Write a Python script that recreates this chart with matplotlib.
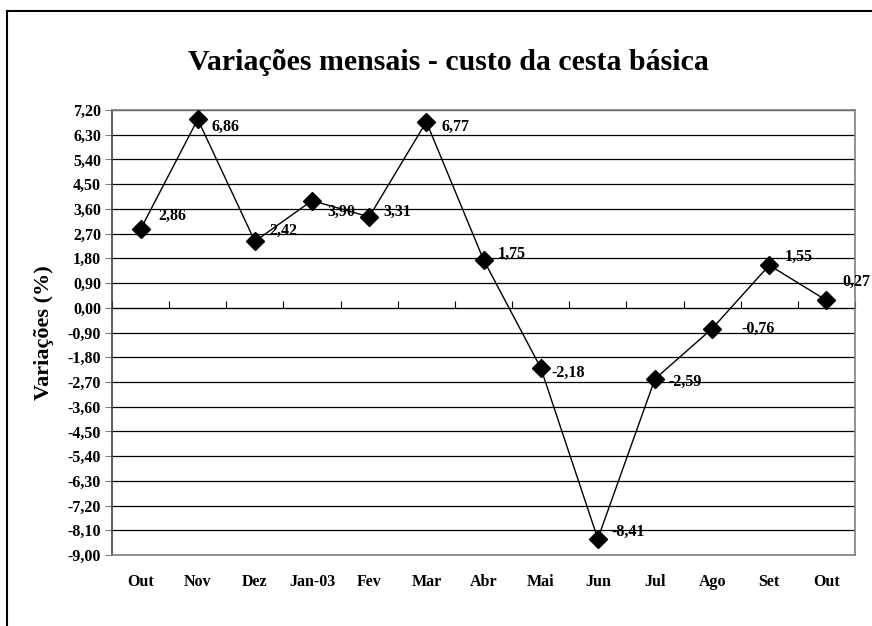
import matplotlib
matplotlib.use("Agg")
import matplotlib.pyplot as plt
from matplotlib.lines import Line2D
import numpy as np

# data
meses = ["Out", "Nov", "Dez", "Jan-03", "Fev", "Mar", "Abr",
         "Mai", "Jun", "Jul", "Ago", "Set", "Out"]
variacoes = [2.86, 6.86, 2.42, 3.90, 3.31, 6.77, 1.75,
             -2.18, -8.41, -2.59, -0.76, 1.55, 0.27]
y_ticks = [7.20, 6.30, 5.40, 4.50, 3.60, 2.70, 1.80, 0.90, 0.00, -0.90,
           -1.80, -2.70, -3.60, -4.50, -5.40, -6.30, -7.20, -8.10, -9.00]

# label offsets in pixels (left edge of text, vertical centre)
label_off = [(18, 13), (14, -8), (14, 10), (15, -11), (14, 5), (15, -5), (14, 6),
             (11, -5), (14, 7), (13, -3), (29, 0), (15, 8), (16, 18)]

plt.rcParams["font.family"] = ["Liberation Serif", "DejaVu Serif"]
plt.rcParams["font.weight"] = "bold"

W, H = 872, 626
fig = plt.figure(figsize=(W / 100, H / 100), dpi=100)
ax = fig.add_axes([112 / W, 1 - 555 / H, (855 - 112) / W, (555 - 110) / H])

x = np.arange(len(meses))
ax.plot(x, variacoes, color="black", lw=1.0, marker="D", markersize=9,
        markerfacecolor="black", markeredgecolor="black", zorder=3)

for xi, v, (dx, dy) in zip(x, variacoes, label_off):
    ax.annotate(f"{v:.2f}".replace(".", ","), (xi, v), xytext=(dx, dy),
                textcoords="offset pixels", ha="left", va="center",
                fontsize=11.5, fontweight="bold", zorder=4)

ymin, ymax = min(y_ticks), max(y_ticks)
ax.set_xlim(-0.5, len(meses) - 0.5)
ax.set_ylim(ymin, ymax)
ax.set_yticks(y_ticks)
ax.set_yticklabels([f"{t:.2f}".replace(".", ",") for t in y_ticks], fontsize=11.5)
ax.set_xticks(x)
ax.set_xticklabels(meses, fontsize=11.5)
ax.tick_params(axis="x", length=0, pad=14)
ax.tick_params(axis="y", length=5, width=0.8, color="#808080", pad=3)
ax.yaxis.grid(True, color="black", lw=0.9)
ax.set_axisbelow(True)

for side in ["top", "right", "bottom"]:
    ax.spines[side].set_color("#808080")
    ax.spines[side].set_linewidth(1.2)
ax.spines["left"].set_color("#404040")
ax.spines["left"].set_linewidth(1.2)

# category axis crossing at zero
sec = ax.secondary_xaxis((0 - ymin) / (ymax - ymin))
sec.set_xticks(np.arange(-0.5, len(meses) + 0.5, 1.0))
sec.set_xticklabels([])
sec.tick_params(axis="x", direction="out", length=5, color="black", width=0.8)
sec.spines["bottom"].set_color("#808080")
sec.spines["bottom"].set_linewidth(1.2)

ax.set_ylabel("Variações (%)", fontsize=16, fontweight="bold", labelpad=10)
fig.text(0.5 * (187 + 710) / W, 1 - 62 / H, "Variações mensais - custo da cesta básica",
         ha="center", va="center", fontsize=21.5, fontweight="bold")

# chart-area border
fig.add_artist(Line2D([7 / W, 1], [1 - 11 / H, 1 - 11 / H], color="black", lw=1.5,
                      transform=fig.transFigure))
fig.add_artist(Line2D([7 / W, 7 / W], [0, 1 - 11 / H], color="black", lw=1.5,
                      transform=fig.transFigure))

fig.savefig("out.png", dpi=100)
